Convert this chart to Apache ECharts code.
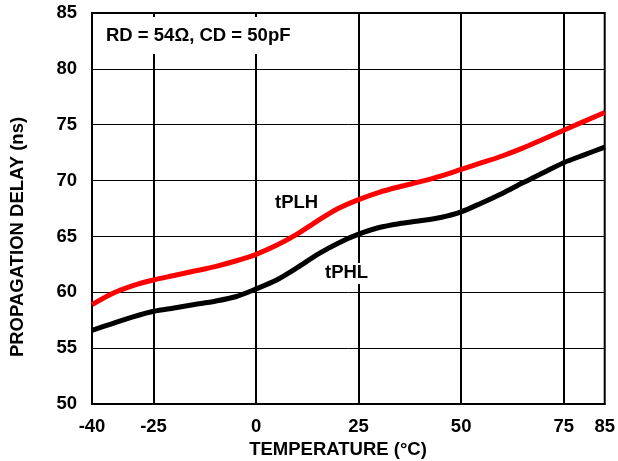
<!DOCTYPE html>
<html>
<head>
<meta charset="utf-8">
<script src="https://cdn.jsdelivr.net/npm/echarts@6/dist/echarts.min.js"></script>
<style>
html,body{margin:0;padding:0;background:#fff;}
#chart{width:618px;height:461px;}
</style>
</head>
<body>
<div id="chart"></div>
<script>
// Data
const temperatures = [-40,-35,-30,-25,-20,-15,-10,-5,0,5,10,15,20,25,30,35,40,45,50,55,60,65,70,75,80,85];
const tPLH = [58.9,59.9,60.6,61.1,61.5,61.9,62.3,62.8,63.4,64.2,65.2,66.4,67.5,68.3,68.95,69.45,69.9,70.4,71.0,71.6,72.2,72.9,73.7,74.5,75.3,76.1];
const tPHL = [56.6,57.2,57.8,58.3,58.6,58.9,59.2,59.6,60.3,61.1,62.2,63.4,64.4,65.2,65.8,66.15,66.4,66.7,67.2,68.0,68.85,69.8,70.7,71.6,72.3,73.0];
const xTickLabels = [-40,-25,0,25,50,75,85];
const xGridLines = [-25,0,25,50,75];
const seriesNames = ['tPLH','tPHL'];
const annotation = 'RD = 54Ω, CD = 50pF';
const xTitle = 'TEMPERATURE (°C)';
const yTitle = 'PROPAGATION DELAY (ns)';

const FONT = "'Liberation Sans', Arial, sans-serif";
const FS = 18.5;
const chart = echarts.init(document.getElementById('chart'), null, {renderer:'canvas'});
const pairs = arr => temperatures.map((t,i)=>[t,arr[i]]);

chart.setOption({
  animation:false,
  backgroundColor:'#fff',
  grid:{left:92,right:11,top:13,bottom:57,show:true,borderColor:'#000',borderWidth:2,containLabel:false},
  xAxis:{
    type:'value',min:-40,max:85,
    axisLine:{show:true,lineStyle:{color:'#000',width:2}},
    axisTick:{show:false},
    splitLine:{show:false},
    axisLabel:{customValues:xTickLabels,color:'#000',fontFamily:FONT,fontWeight:'bold',fontSize:FS,margin:13}
  },
  yAxis:{
    type:'value',min:50,max:85,interval:5,
    axisLine:{show:true,lineStyle:{color:'#000',width:2}},
    axisTick:{show:false},
    splitLine:{show:true,lineStyle:{color:'#000',width:1}},
    axisLabel:{color:'#000',fontFamily:FONT,fontWeight:'bold',fontSize:FS,margin:15}
  },
  series:[
    {
      name:seriesNames[0],type:'line',data:pairs(tPLH),smooth:0.3,showSymbol:false,
      lineStyle:{color:'#ff0000',width:5},z:3,
      markLine:{silent:true,symbol:'none',label:{show:false},
        lineStyle:{color:'#000',width:2,type:'solid'},
        data:xGridLines.map(v=>({xAxis:v})),z:1}
    },
    {
      name:seriesNames[1],type:'line',data:pairs(tPHL),smooth:0.3,showSymbol:false,
      lineStyle:{color:'#000',width:5},z:3
    }
  ],
  graphic:[
    {type:'rect',z:100,shape:{x:100,y:17,width:198,height:37},style:{fill:'#fff'}},
    {type:'text',z:101,x:106,y:36,style:{text:annotation,fill:'#000',font:'bold '+FS+'px '+FONT,textVerticalAlign:'middle',textAlign:'left'}},
    {type:'text',z:101,x:275,y:203,style:{text:seriesNames[0],fill:'#000',font:'bold '+FS+'px '+FONT,textVerticalAlign:'middle',textAlign:'left'}},
    {type:'rect',z:100,shape:{x:322,y:263,width:50,height:21},style:{fill:'#fff'}},
    {type:'text',z:101,x:325,y:273,style:{text:seriesNames[1],fill:'#000',font:'bold '+FS+'px '+FONT,textVerticalAlign:'middle',textAlign:'left'}},
    {type:'text',z:101,x:338,y:450,style:{text:xTitle,fill:'#000',font:'bold '+FS+'px '+FONT,textVerticalAlign:'middle',textAlign:'center'}},
    {type:'text',z:101,x:18,y:237,rotation:Math.PI/2,style:{text:yTitle,fill:'#000',font:'bold '+FS+'px '+FONT,textVerticalAlign:'middle',textAlign:'center'}}
  ]
});
</script>
</body>
</html>
